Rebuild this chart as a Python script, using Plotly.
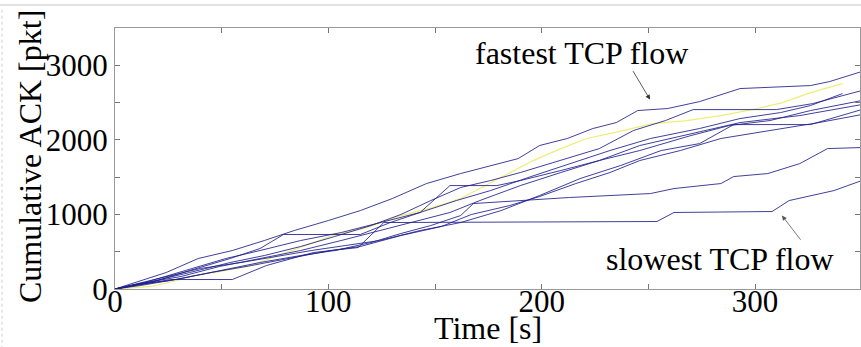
import plotly.graph_objects as go

# ---- data (time [s], cumulative ACK [pkt]) ----
t_fastest = [0, 8, 24, 39, 55, 70, 84, 100, 115, 130, 146, 162, 173, 189, 199, 212, 224, 235, 245, 259, 274, 293, 326, 335, 350]
ack_fastest = [0, 74, 221, 409, 516, 650, 784, 918, 1052, 1213, 1414, 1548, 1629, 1749, 1924, 2018, 2152, 2232, 2393, 2420, 2513, 2688, 2728, 2782, 2916]

t_flow2 = [0, 17, 35, 54, 70, 87, 103, 120, 134, 148, 162, 176, 190, 209, 227, 243, 258, 271, 310, 327, 350]
ack_flow2 = [0, 100, 221, 355, 449, 570, 704, 851, 999, 1186, 1361, 1454, 1562, 1722, 1883, 2125, 2259, 2406, 2406, 2486, 2661]

t_flow3 = [0, 14, 33, 52, 68, 87, 106, 124, 143, 160, 176, 195, 213, 232, 251, 274, 293, 312, 326, 341]
ack_flow3 = [0, 87, 248, 409, 516, 650, 757, 891, 1026, 1186, 1320, 1508, 1682, 1857, 2018, 2152, 2286, 2366, 2460, 2621]

t_flow4 = [0, 12, 31, 49, 68, 87, 106, 124, 143, 157, 171, 190, 209, 227, 246, 270, 288, 307, 326, 350]
ack_flow4 = [0, 74, 168, 302, 409, 516, 650, 784, 918, 1026, 1186, 1387, 1562, 1723, 1857, 2058, 2192, 2259, 2393, 2527]

t_flow5 = [0, 7, 21, 40, 59, 78, 92, 108, 124, 143, 162, 181, 199, 218, 237, 256, 274, 290, 326, 350]
ack_flow5 = [0, 47, 141, 275, 355, 449, 516, 583, 650, 784, 891, 1052, 1253, 1481, 1656, 1857, 1950, 2205, 2205, 2406]

t_flow6 = [0, 10, 26, 45, 64, 82, 101, 115, 134, 153, 167, 185, 199, 216, 232, 246, 265, 284, 307, 330, 350]
ack_flow6 = [0, 60, 114, 221, 315, 409, 516, 570, 717, 838, 999, 1119, 1240, 1414, 1562, 1723, 1857, 2018, 2125, 2232, 2339]

t_flow7 = [0, 12, 31, 49, 68, 87, 103, 120, 134, 148, 162, 168, 213, 251, 262, 284, 290, 306, 321, 334, 350]
ack_flow7 = [0, 47, 141, 248, 355, 449, 516, 623, 744, 851, 985, 1146, 1227, 1280, 1347, 1414, 1508, 1548, 1682, 1883, 1897]

t_flow8 = [0, 17, 35, 54, 68, 79, 115, 129, 143, 157, 179, 190, 209, 227, 246, 270, 293, 321, 350]
ack_flow8 = [0, 87, 248, 409, 543, 731, 731, 891, 1026, 1387, 1387, 1454, 1589, 1723, 1924, 2085, 2232, 2326, 2473]

t_slowest = [0, 12, 26, 55, 71, 93, 114, 126, 254, 262, 308, 316, 337, 350]
ack_slowest = [0, 60, 127, 127, 315, 489, 556, 891, 905, 1026, 1039, 1186, 1320, 1454]

t_yellow = [0, 17, 29, 37, 47, 62, 74, 87, 102, 118, 134, 149, 162, 179, 196, 209, 221, 234, 252, 268, 284, 301, 313, 326, 341]
ack_yellow = [0, 34, 114, 181, 221, 302, 422, 556, 717, 824, 985, 1092, 1213, 1468, 1722, 1883, 2018, 2098, 2218, 2259, 2326, 2420, 2500, 2634, 2755]

x_ticks = [0, 100, 200, 300]
y_ticks = [0, 1000, 2000, 3000]

blue_flows = [
    (t_flow2, ack_flow2), (t_flow3, ack_flow3), (t_flow4, ack_flow4),
    (t_flow5, ack_flow5), (t_flow6, ack_flow6), (t_flow7, ack_flow7),
    (t_flow8, ack_flow8), (t_slowest, ack_slowest), (t_fastest, ack_fastest),
]

FONT = "Liberation Serif"
fig = go.Figure()
fig.add_trace(go.Scatter(x=t_yellow, y=ack_yellow, mode="lines",
                         line=dict(color="rgb(240,236,120)", width=1.2),
                         hoverinfo="skip", showlegend=False))
for t, a in blue_flows:
    fig.add_trace(go.Scatter(x=t, y=a, mode="lines",
                             line=dict(color="rgba(30,30,140,0.85)", width=1),
                             hoverinfo="skip", showlegend=False))

axis_common = dict(showline=True, linecolor="#9a9a9a", linewidth=1, mirror="ticks",
                   ticks="inside", ticklen=5, tickcolor="#777", tickwidth=1,
                   showgrid=False, zeroline=False, automargin=False,
                   tickfont=dict(family=FONT, size=31, color="black"))

fig.update_xaxes(range=[0, 349.2], tickvals=x_ticks, ticktext=[str(v) for v in x_ticks],
                 minor=dict(dtick=50, tick0=0, ticks="inside", ticklen=5, tickcolor="#777"),
                 ticklabelstandoff=-15,
                 **axis_common)
fig.update_yaxes(range=[0, 3500], tickvals=y_ticks, ticktext=[str(v) for v in y_ticks],
                 minor=dict(dtick=500, tick0=0, ticks="inside", ticklen=5, tickcolor="#777"),
                 **axis_common)

# axis titles
fig.add_annotation(xref="paper", yref="paper", x=0.5007, y=-0.149, xanchor="center", yanchor="middle",
                   text="Time [s]", showarrow=False, font=dict(family=FONT, size=32, color="black"))
fig.add_annotation(xref="paper", yref="paper", x=-0.114, y=0.506, xanchor="center", yanchor="middle",
                   text="Cumulative ACK [pkt]", textangle=-90, showarrow=False,
                   font=dict(family=FONT, size=32, color="black"))

fig.add_annotation(x=218.5, y=3170, text="fastest TCP flow", showarrow=False,
                   font=dict(family=FONT, size=32, color="black"))
fig.add_annotation(x=250.8, y=2540, ax=242.4, ay=2942, axref="x", ayref="y",
                   text="", showarrow=True, arrowhead=2, arrowsize=1.2, arrowwidth=0.8, arrowcolor="#333")
fig.add_annotation(x=283.6, y=409, text="slowest TCP flow", showarrow=False,
                   font=dict(family=FONT, size=32, color="black"))
fig.add_annotation(x=312.6, y=985, ax=321.9, ay=641, axref="x", ayref="y",
                   text="", showarrow=True, arrowhead=2, arrowsize=1.2, arrowwidth=0.8, arrowcolor="#555")

# page frame artefacts: light top rule and dotted left rule
fig.add_shape(type="line", xref="paper", yref="paper", x0=-0.16, x1=1.01, y0=1.088, y1=1.088,
              line=dict(color="#e2e2e2", width=2))
fig.add_shape(type="line", xref="paper", yref="paper", x0=-0.1517, x1=-0.1517, y0=1.07, y1=-0.222,
              line=dict(color="#d0d0d0", width=1, dash="dot"))

fig.update_layout(width=861, height=347, margin=dict(l=115, r=1, t=28, b=58),
                  plot_bgcolor="white", paper_bgcolor="white", showlegend=False,
                  font=dict(family=FONT, size=31, color="black"))

fig.write_html("out.html")
